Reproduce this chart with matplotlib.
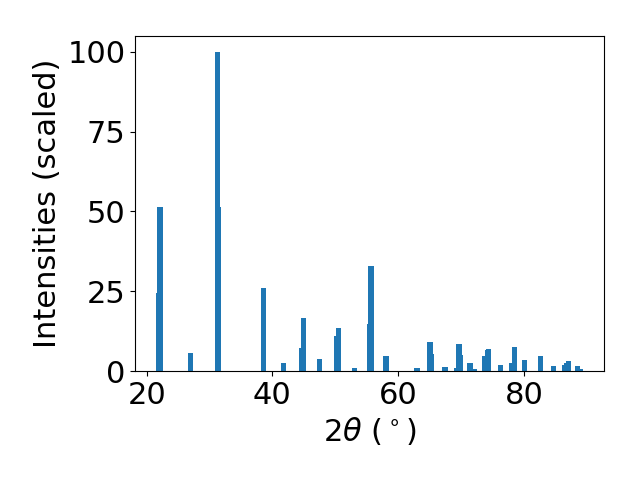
import matplotlib
matplotlib.use("Agg")
import matplotlib.pyplot as plt

# peak positions (2theta, degrees) and scaled intensities
two_theta = [21.96, 22.13, 26.96, 31.27, 31.38, 38.60, 41.80,
             44.66, 44.98, 47.50, 50.24, 50.56, 53.10, 55.50, 55.67,
             58.06, 63.00, 65.08, 65.35, 67.47, 69.38, 69.70, 69.82,
             71.46, 72.05, 73.70, 74.20, 74.40, 76.24, 78.00, 78.47,
             80.07, 82.62, 84.70, 86.45, 86.77, 87.09, 88.50, 88.96]
intensity = [24.4, 51.5, 5.7, 100.0, 51.5, 26.0, 2.5,
             7.2, 16.6, 3.8, 11.0, 13.5, 0.9, 14.8, 32.9,
             4.7, 0.9, 9.0, 5.3, 1.3, 0.9, 8.5, 5.0,
             2.5, 0.6, 4.7, 6.6, 6.9, 1.9, 2.5, 7.5,
             3.5, 4.7, 1.6, 1.9, 2.5, 3.1, 1.6, 0.6]

fig, ax = plt.subplots(figsize=(6.4, 4.8), dpi=100)
ax.bar(two_theta, intensity, width=0.85, color="#1f77b4")
ax.set_xlabel(r"$2\theta$ ($^\circ$)", fontsize=22)
ax.set_ylabel("Intensities (scaled)", fontsize=22)
ax.tick_params(labelsize=22)
ax.set_yticks([0, 25, 50, 75, 100])
fig.subplots_adjust(left=0.211, right=0.944, bottom=0.227, top=0.925)
fig.savefig("out.png")
